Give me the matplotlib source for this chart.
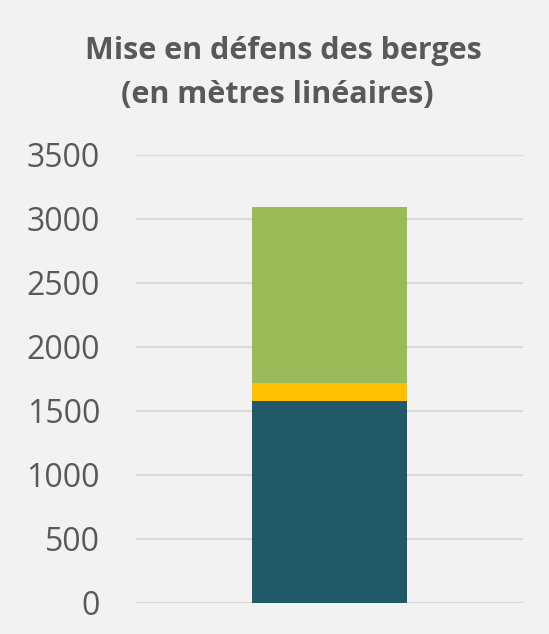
import matplotlib
matplotlib.use("Agg")
import matplotlib.pyplot as plt

# stacked values (metres lineaires)
categories = [""]
part_bottom = [1575]
part_middle = [140]
part_top = [1380]
colors = ["#215968", "#FFC000", "#9BBB59"]
yticks = [0, 500, 1000, 1500, 2000, 2500, 3000, 3500]
title_lines = ["Mise en défens des berges", "(en mètres linéaires)"]

plt.rcParams["font.family"] = ["Open Sans", "DejaVu Sans"]

fig = plt.figure(figsize=(5.49, 6.34), dpi=100)
fig.patch.set_facecolor("#f2f2f2")
ax = fig.add_axes([0.248, 0.049, 0.705, 0.7066])
ax.set_facecolor("#f2f2f2")

x = range(len(categories))
ax.bar(x, part_bottom, width=0.4, color=colors[0], zorder=3)
ax.bar(x, part_middle, width=0.4, bottom=part_bottom, color=colors[1], zorder=3)
base2 = [a + b for a, b in zip(part_bottom, part_middle)]
ax.bar(x, part_top, width=0.4, bottom=base2, color=colors[2], zorder=3)

ax.set_xlim(-0.5, 0.5)
ax.set_ylim(0, 3500)
ax.set_yticks(yticks)
ax.set_xticks([])
ax.grid(axis="y", color="#d9d9d9", linewidth=1.5, zorder=0)
ax.tick_params(axis="y", length=0, pad=26, labelsize=23, labelcolor="#595959")
for s in ax.spines.values():
    s.set_visible(False)

# title, two lines
fig.text(0.517, 1 - 59 / 634, title_lines[0], ha="center", va="baseline",
         fontsize=22, fontweight="bold", color="#595959")
fig.text(0.505, 1 - 103 / 634, title_lines[1], ha="center", va="baseline",
         fontsize=22, fontweight="bold", color="#595959")

fig.savefig("out.png", dpi=100, facecolor=fig.get_facecolor())
